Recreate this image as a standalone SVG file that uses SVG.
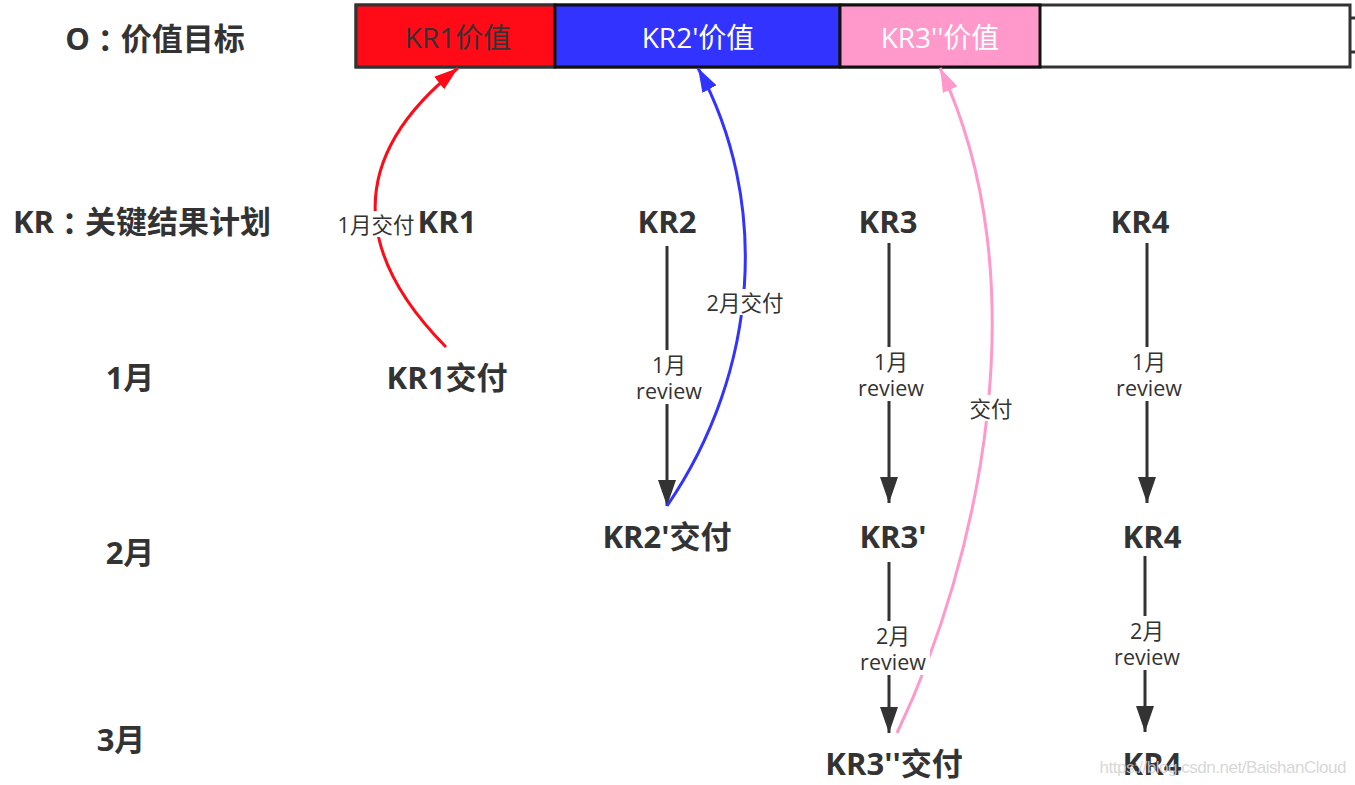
<svg xmlns="http://www.w3.org/2000/svg" width="1355" height="785" viewBox="0 0 1355 785">
<style>
.h{font-family:"Open Sans","Noto Sans CJK SC",sans-serif;font-weight:bold;font-size:31px;fill:#333;text-anchor:middle;dominant-baseline:central}
.c{font-family:"Noto Sans CJK TC",sans-serif}
.n{font-family:"Open Sans","Noto Sans CJK SC",sans-serif;font-size:28px;fill:#333;text-anchor:middle;dominant-baseline:central}
.l{font-family:"Open Sans","Noto Sans CJK SC",sans-serif;font-size:21.5px;fill:#333;text-anchor:middle;dominant-baseline:central}
.bg{fill:#fff}
.dk{fill:none;stroke:#333;stroke-width:3}
</style>
<defs>
<marker id="ad" markerUnits="userSpaceOnUse" markerWidth="26" markerHeight="20" refX="26" refY="9" orient="auto"><path d="M0,0 L26,9 L0,18 Z" fill="#333"/></marker>
<marker id="ar" markerUnits="userSpaceOnUse" markerWidth="24" markerHeight="20" refX="24" refY="8" orient="auto"><path d="M0,0 L24,8 L0,16 Z" fill="#ff0a16"/></marker>
<marker id="ab" markerUnits="userSpaceOnUse" markerWidth="24" markerHeight="20" refX="24" refY="8" orient="auto"><path d="M0,0 L24,8 L0,16 Z" fill="#3333ff"/></marker>
<marker id="ap" markerUnits="userSpaceOnUse" markerWidth="24" markerHeight="20" refX="24" refY="8" orient="auto"><path d="M0,0 L24,8 L0,16 Z" fill="#ff99cc"/></marker>
</defs>
<rect width="1355" height="785" fill="#fff"/>

<g id="objective-bar">
<rect x="356" y="5" width="994" height="62" fill="#fff" stroke="#333" stroke-width="3"/>
<rect x="356" y="5" width="199" height="62" fill="#ff0a16" stroke="#333" stroke-width="3"/>
<rect x="555" y="5" width="285" height="62" fill="#3333ff" stroke="#111" stroke-width="3"/>
<rect x="840" y="5" width="200" height="62" fill="#ff99cc" stroke="#111" stroke-width="3"/>
<line x1="1350" y1="18" x2="1355" y2="18" stroke="#333" stroke-width="3"/>
<line x1="1350" y1="52" x2="1355" y2="52" stroke="#333" stroke-width="3"/>
</g>
<g id="kr1-value"><text class="n" x="458" y="37">KR1价值</text></g>
<g id="kr2-value"><text class="n" x="698" y="37" style="fill:#fff">KR2'价值</text></g>
<g id="kr3-value"><text class="n" x="940" y="37" style="fill:#fff">KR3''价值</text></g>

<g id="row-labels">
<text class="h" x="155" y="38">O<tspan class="c">：</tspan>价值目标</text>
<text class="h" x="142" y="221">KR<tspan class="c">：</tspan>关键结果计划</text>
<text class="h" x="130" y="377">1月</text>
<text class="h" x="130" y="552">2月</text>
<text class="h" x="121" y="739">3月</text>
</g>

<g id="connectors">
<path class="dk" d="M667,246 L667,506" marker-end="url(#ad)"/>
<path class="dk" d="M889,243 L889,503" marker-end="url(#ad)"/>
<path class="dk" d="M1147,243 L1147,503" marker-end="url(#ad)"/>
<path class="dk" d="M889,562 L889,733" marker-end="url(#ad)"/>
<path class="dk" d="M1145,556 L1145,732" marker-end="url(#ad)"/>
<path d="M446,347 C370,270 330,170 458,68" fill="none" stroke="#ff0a16" stroke-width="3" marker-end="url(#ar)"/>
<path d="M667,506 C760,370 770,200 698,68" fill="none" stroke="#3333ff" stroke-width="3" marker-end="url(#ab)"/>
<path d="M897,733 C980,560 1040,280 940,68" fill="none" stroke="#ff99cc" stroke-width="3" marker-end="url(#ap)"/>
<g id="connector-labels">
<rect class="bg" x="336" y="211" width="80" height="26"/>
<text class="l" x="376" y="224">1月交付</text>
<rect class="bg" x="704" y="289" width="82" height="26"/>
<text class="l" x="745" y="302">2月交付</text>
<rect class="bg" x="967" y="395" width="48" height="26"/>
<text class="l" x="991" y="408">交付</text>
<rect class="bg" x="632" y="350" width="74" height="54"/>
<text class="l" x="669" y="364">1月<tspan x="669" dy="26">review</tspan></text>
<rect class="bg" x="854" y="347" width="74" height="54"/>
<text class="l" x="891" y="361">1月<tspan x="891" dy="26">review</tspan></text>
<rect class="bg" x="1112" y="347" width="74" height="54"/>
<text class="l" x="1149" y="361">1月<tspan x="1149" dy="26">review</tspan></text>
<rect class="bg" x="856" y="621" width="74" height="54"/>
<text class="l" x="893" y="635">2月<tspan x="893" dy="26">review</tspan></text>
<rect class="bg" x="1110" y="616" width="74" height="54"/>
<text class="l" x="1147" y="630">2月<tspan x="1147" dy="26">review</tspan></text>
</g>
</g>

<g id="kr1"><text class="h" x="447" y="221">KR1</text></g>
<g id="kr1-delivery"><text class="h" x="447" y="377">KR1交付</text></g>
<g id="kr2"><text class="h" x="667" y="221">KR2</text></g>
<g id="kr2-delivery"><text class="h" x="667" y="536">KR2'交付</text></g>
<g id="kr3"><text class="h" x="888" y="221">KR3</text></g>
<g id="kr3-prime"><text class="h" x="893" y="536">KR3'</text></g>
<g id="kr3-delivery"><text class="h" x="894" y="763">KR3''交付</text></g>
<g id="kr4"><text class="h" x="1140" y="221">KR4</text></g>
<g id="kr4-feb"><text class="h" x="1152" y="536">KR4</text></g>
<g id="kr4-mar"><text class="h" x="1152" y="763">KR4</text></g>

<text x="1223" y="767" font-family="Liberation Sans, sans-serif" font-size="17" fill="#d0d0d0" fill-opacity="0.85" text-anchor="middle" dominant-baseline="central" textLength="247">https://blog.csdn.net/BaishanCloud</text>
</svg>
